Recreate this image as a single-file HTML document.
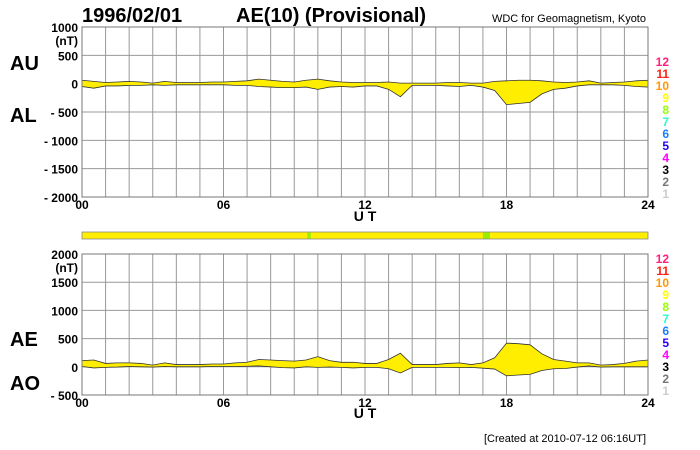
<!DOCTYPE html>
<html><head><meta charset="utf-8"><style>
body{margin:0;background:#fff;}
svg{display:block;font-family:"Liberation Sans",sans-serif;}
</style></head><body>
<svg id="c" width="700" height="450" viewBox="0 0 700 450">
<text x="82" y="22" font-size="20" font-weight="bold">1996/02/01</text>
<text x="236" y="22" font-size="20" font-weight="bold">AE(10) (Provisional)</text>
<text x="646" y="22" font-size="11" text-anchor="end">WDC for Geomagnetism, Kyoto</text>
<text x="10" y="70" font-size="20" font-weight="bold">AU</text>
<text x="10" y="122" font-size="20" font-weight="bold">AL</text>
<text x="10" y="346" font-size="20" font-weight="bold">AE</text>
<text x="10" y="390" font-size="20" font-weight="bold">AO</text>
<text x="365" y="221" font-size="14" font-weight="bold" text-anchor="middle">U T</text>
<text x="365" y="418" font-size="14" font-weight="bold" text-anchor="middle">U T</text>
<text x="646" y="442" font-size="11" text-anchor="end">[Created at 2010-07-12 06:16UT]</text>
<g id="g"></g>
</svg>
<script>
const hours=[0,0.5,1,1.5,2,2.5,3,3.5,4,4.5,5,5.5,6,6.5,7,7.5,8,8.5,9,9.5,10,10.5,11,11.5,12,12.5,13,13.5,14,14.5,15,15.5,16,16.5,17,17.5,18,18.5,19,19.5,20,20.5,21,21.5,22,22.5,23,23.5,24];
const au=[60,40,20,30,40,30,10,40,20,20,20,30,30,40,50,80,60,40,30,60,80,50,30,20,20,20,30,10,10,10,10,20,20,10,10,40,50,60,60,50,30,20,30,50,10,20,30,50,60];
const al=[-50,-80,-40,-40,-30,-30,-20,-30,-20,-20,-20,-20,-20,-30,-30,-50,-60,-70,-70,-60,-100,-60,-50,-60,-40,-40,-100,-230,-30,-30,-30,-40,-50,-30,-60,-120,-370,-350,-330,-180,-100,-80,-40,-20,-20,-20,-30,-50,-60];
const ae=au.map((v,i)=>v-al[i]);
const ao=au.map((v,i)=>(v+al[i])/2);
const greenRanges=[[9.55,9.7],[17.0,17.3]];
const topTicks=[1000,500,0,-500,-1000,-1500,-2000];
const botTicks=[2000,1500,1000,500,0,-500];
const xTicks=["00","06","12","18","24"];
const legendNums=["12","11","10","9","8","7","6","5","4","3","2","1"];
const legendCols=["#ff1f7f","#ff2010","#ff9900","#ffff00","#99ff00","#22ffcc","#1a7fff","#2200ff","#ff00ff","#000","#777","#ccc"];
const NS="http://www.w3.org/2000/svg";
const g=document.getElementById('g');
const X0=82,X1=648;
const xs=h=>X0+(X1-X0)*h/24;
function mk(t,a,p){const e=document.createElementNS(NS,t);for(const k in a)e.setAttribute(k,a[k]);(p||g).appendChild(e);return e;}
function panel(yTop,yBot,vmax,vmin,ticks,up,lo,key,legY){
  const ys=v=>yTop+(vmax-v)/(vmax-vmin)*(yBot-yTop);
  for(let h=1;h<24;h++){const l=mk('line',{x1:xs(h),x2:xs(h),y1:yTop,y2:yBot,stroke:'#999','stroke-width':1});
    
    }
  ticks.forEach((v,i)=>{const y=ys(v);
    const l=mk('line',{x1:X0,x2:X1,y1:y,y2:y,stroke:'#999','stroke-width':1});
    
    
    const t=mk('text',{x:78,y:y+5,'font-size':12,'font-weight':'bold','text-anchor':'end'});
    t.textContent=(v<0?'- '+(-v):String(v));
    
    });
  const u=mk('text',{x:78,y:ys(ticks[0])+18,'font-size':12,'font-weight':'bold','text-anchor':'end'});u.textContent='(nT)';
  
  
  let d='M'+hours.map((h,i)=>xs(h)+','+ys(up[i])).join('L');
  for(let i=hours.length-1;i>=0;i--)d+='L'+xs(hours[i])+','+ys(lo[i]);
  const a=mk('path',{d:d+'Z',fill:'#ffee00',stroke:'#333','stroke-width':0.8});
  
  
  mk('rect',{x:X0,y:yTop,width:X1-X0,height:yBot-yTop,fill:'none',stroke:'#777'});
  xTicks.forEach((s,i)=>{const t=mk('text',{x:xs(i*6),y:yBot+12,'font-size':12,'font-weight':'bold','text-anchor':'middle'});t.textContent=s;
    
    });
  legendNums.forEach((n,i)=>{const t=mk('text',{x:669,y:legY+i*12,'font-size':12,'font-weight':'bold','text-anchor':'end',fill:legendCols[i]});t.textContent=n;
    
    });
}
panel(27,197,1000,-2000,topTicks,au,al,'au-al',66);
panel(254,395,2000,-500,botTicks,ae,ao,'ae-ao',263);
const bar=mk('rect',{x:X0,y:232,width:X1-X0,height:7,fill:'#ffee00',stroke:'#888','stroke-width':0.8});


greenRanges.forEach(r=>{const b=mk('rect',{x:xs(r[0]),y:232.5,width:xs(r[1])-xs(r[0]),height:6,fill:'#99ee00'});
  
  });
</script>
</body></html>
